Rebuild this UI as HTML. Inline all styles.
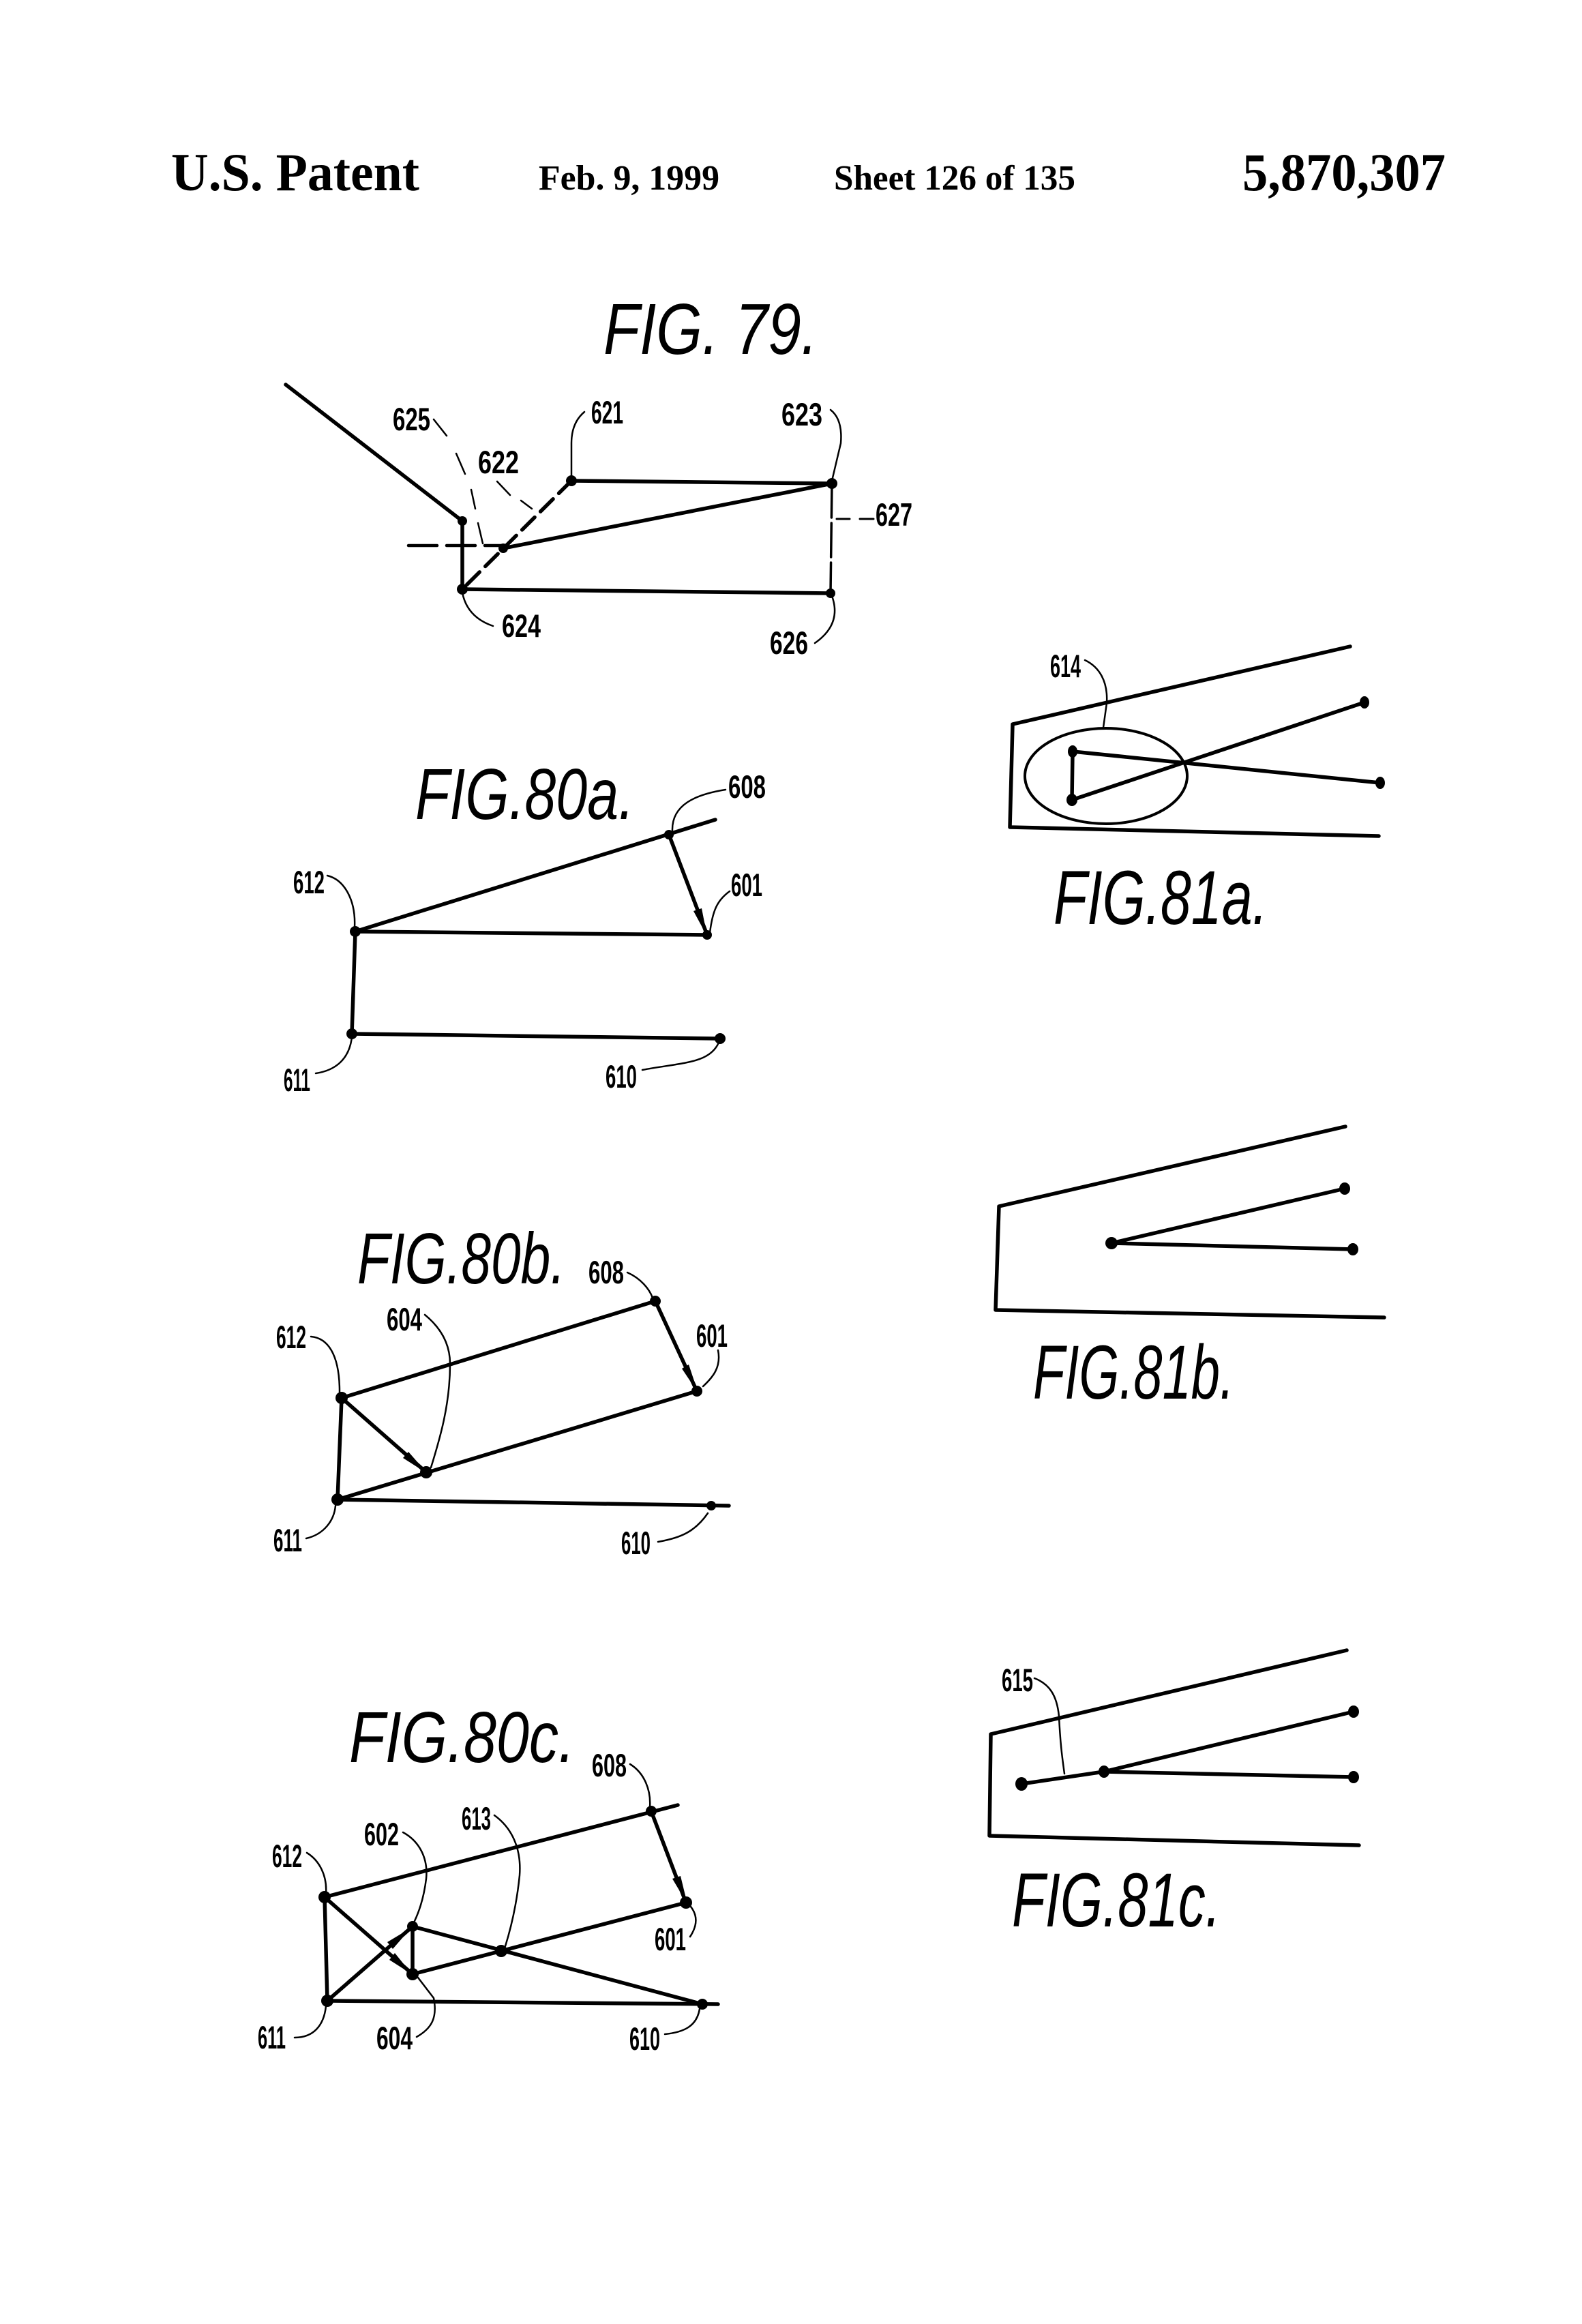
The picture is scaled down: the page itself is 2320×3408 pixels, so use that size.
<!DOCTYPE html>
<html><head><meta charset="utf-8"><style>
html,body{margin:0;padding:0;background:#fff;width:2320px;height:3408px;overflow:hidden}
svg{display:block}
.h{font-family:"Liberation Serif",serif;font-weight:bold;fill:#000}
.t{font-family:"Liberation Sans",sans-serif;font-style:italic;font-size:106px;fill:#000}
.t2{font-size:112px}
.l{font-family:"Liberation Sans",sans-serif;font-weight:bold;font-size:47px;fill:#000}
.s{stroke:#000;stroke-width:5.5;fill:none;stroke-linecap:round;stroke-linejoin:round}
.m{stroke:#000;stroke-width:2.5;fill:none;stroke-linecap:round}
</style></head><body>
<svg xmlns="http://www.w3.org/2000/svg" width="2320" height="3408" viewBox="0 0 2320 3408">
<rect width="2320" height="3408" fill="#fff"/>
<text class="h" x="251" y="279" font-size="78" textLength="364" lengthAdjust="spacingAndGlyphs">U.S. Patent</text>
<text class="h" x="790" y="278" font-size="52" textLength="265" lengthAdjust="spacingAndGlyphs">Feb. 9, 1999</text>
<text class="h" x="1223" y="278" font-size="52" textLength="354" lengthAdjust="spacingAndGlyphs">Sheet 126 of 135</text>
<text class="h" x="1822" y="279" font-size="78" textLength="298" lengthAdjust="spacingAndGlyphs">5,870,307</text>

<!-- FIG 79 -->
<text class="t" x="885" y="519" textLength="314" lengthAdjust="spacingAndGlyphs">FIG. 79.</text>
<path class="s" d="M419 564L678 764L678 864L1218 870M838 705L1220 709L738 804" />
<path class="s" d="M838 705L678 864" stroke-dasharray="26 12"/>
<path class="s" style="stroke-width:4.5" d="M599 800L736 800" stroke-dasharray="42 14"/>
<path class="s" style="stroke-width:3.5" d="M1220 709L1218 870" stroke-dasharray="50 8"/>
<path class="s" style="stroke-width:3" d="M1227 761H1246M1261 761H1281"/>
<g class="m"><path d="M636 615L655 639M669 665L682 695M691 718L697 746M701 767L708 797M729 706L748 726M764 734L780 746"/>
<path d="M838 700L838 650Q838 620 857 604M1220 705L1233 650Q1236 615 1218 601M678 869Q685 905 723 918M1220 874Q1235 915 1195 943"/></g>
<g><circle cx="678" cy="764" r="7"/><circle cx="678" cy="864" r="8"/><circle cx="838" cy="705" r="8"/><circle cx="1220" cy="709" r="8"/><circle cx="1218" cy="870" r="7"/><circle cx="738" cy="804" r="7"/></g>
<g class="l" >
<text x="576" y="631" textLength="55" lengthAdjust="spacingAndGlyphs">625</text>
<text x="867" y="621" textLength="47" lengthAdjust="spacingAndGlyphs">621</text>
<text x="1146" y="624" textLength="60" lengthAdjust="spacingAndGlyphs">623</text>
<text x="701" y="694" textLength="60" lengthAdjust="spacingAndGlyphs">622</text>
<text x="736" y="934" textLength="57" lengthAdjust="spacingAndGlyphs">624</text>
<text x="1129" y="959" textLength="56" lengthAdjust="spacingAndGlyphs">626</text>
<text x="1284" y="771" textLength="54" lengthAdjust="spacingAndGlyphs">627</text>
</g>

<!-- FIG 80a -->
<text class="t" x="609" y="1201" textLength="321" lengthAdjust="spacingAndGlyphs">FIG.80a.</text>
<path class="s" d="M521 1366L1049 1202M981 1224L1037 1371L521 1366L516 1516L1056 1523"/>
<polygon points="1037,1373 1029,1332 1017,1336"/>
<g class="m"><path d="M1064 1158C1020 1165 985 1180 986 1218M1070 1307C1052 1320 1045 1335 1041 1368M480 1284C505 1290 522 1320 520 1360M463 1574C490 1570 512 1555 516 1521M942 1569C1000 1558 1040 1560 1054 1529"/></g>
<g><circle cx="521" cy="1366" r="8"/><circle cx="516" cy="1516" r="8"/><circle cx="1056" cy="1523" r="8"/><circle cx="981" cy="1224" r="7"/><circle cx="1037" cy="1371" r="7"/></g>
<g class="l">
<text x="1068" y="1170" textLength="55" lengthAdjust="spacingAndGlyphs">608</text>
<text x="1072" y="1314" textLength="46" lengthAdjust="spacingAndGlyphs">601</text>
<text x="430" y="1310" textLength="46" lengthAdjust="spacingAndGlyphs">612</text>
<text x="416" y="1600" textLength="39" lengthAdjust="spacingAndGlyphs">611</text>
<text x="888" y="1595" textLength="46" lengthAdjust="spacingAndGlyphs">610</text>
</g>

<!-- FIG 80b -->
<text class="t" x="524" y="1882" textLength="305" lengthAdjust="spacingAndGlyphs">FIG.80b.</text>
<path class="s" d="M501 2050L961 1908L1022 2040L495 2199L1069 2208M501 2050L495 2199M501 2050L625 2159"/>
<polygon points="1024,2043 1010,2001 1000,2007"/>
<polygon points="627,2161 599,2129 591,2138"/>
<g class="m"><path d="M920 1866C940 1875 952 1890 957 1903M623 1928C650 1950 660 1975 660 2000C660 2060 645 2110 632 2152M456 1960C480 1962 498 1985 498 2041M1053 1980C1058 2005 1045 2020 1031 2033M449 2256C475 2250 490 2230 492 2208M965 2261C1000 2255 1020 2245 1038 2219"/></g>
<g><circle cx="961" cy="1908" r="8"/><circle cx="1022" cy="2040" r="8"/><circle cx="501" cy="2050" r="9"/><circle cx="625" cy="2159" r="9"/><circle cx="495" cy="2199" r="9"/><circle cx="1043" cy="2208" r="7"/></g>
<g class="l">
<text x="863" y="1882" textLength="52" lengthAdjust="spacingAndGlyphs">608</text>
<text x="567" y="1951" textLength="52" lengthAdjust="spacingAndGlyphs">604</text>
<text x="405" y="1977" textLength="44" lengthAdjust="spacingAndGlyphs">612</text>
<text x="1021" y="1975" textLength="46" lengthAdjust="spacingAndGlyphs">601</text>
<text x="401" y="2275" textLength="42" lengthAdjust="spacingAndGlyphs">611</text>
<text x="911" y="2279" textLength="43" lengthAdjust="spacingAndGlyphs">610</text>
</g>

<!-- FIG 80c -->
<text class="t" x="512" y="2584" textLength="331" lengthAdjust="spacingAndGlyphs">FIG.80c.</text>
<path class="s" d="M476 2782L994 2647M955 2656L1006 2790L605 2895L476 2782L480 2934L1053 2939M480 2934L605 2825L605 2895M605 2825L1030 2939"/>
<polygon points="1008,2792 998,2751 986,2755"/>
<polygon points="604,2895 579,2864 571,2874"/>
<polygon points="603,2827 576,2858 568,2848"/>
<g class="m"><path d="M924 2587C945 2600 955 2625 953 2651M725 2662C750 2680 765 2710 762 2750C758 2790 750 2825 741 2854M591 2687C615 2700 628 2725 625 2755C622 2780 616 2800 608 2817M450 2717C468 2728 480 2750 478 2777M1013 2796C1024 2810 1022 2825 1012 2840M432 2988C460 2988 475 2970 478 2942M611 2987C632 2975 642 2960 636 2930L613 2900M975 2983C1005 2980 1022 2970 1026 2946"/></g>
<g><circle cx="955" cy="2656" r="8"/><circle cx="476" cy="2782" r="9"/><circle cx="1006" cy="2790" r="9"/><circle cx="605" cy="2825" r="8"/><circle cx="605" cy="2895" r="9"/><circle cx="735" cy="2861" r="9"/><circle cx="480" cy="2934" r="9"/><circle cx="1030" cy="2939" r="8"/></g>
<g class="l">
<text x="868" y="2605" textLength="51" lengthAdjust="spacingAndGlyphs">608</text>
<text x="677" y="2683" textLength="43" lengthAdjust="spacingAndGlyphs">613</text>
<text x="534" y="2706" textLength="51" lengthAdjust="spacingAndGlyphs">602</text>
<text x="399" y="2738" textLength="44" lengthAdjust="spacingAndGlyphs">612</text>
<text x="960" y="2860" textLength="46" lengthAdjust="spacingAndGlyphs">601</text>
<text x="378" y="3004" textLength="41" lengthAdjust="spacingAndGlyphs">611</text>
<text x="552" y="3005" textLength="53" lengthAdjust="spacingAndGlyphs">604</text>
<text x="923" y="3006" textLength="45" lengthAdjust="spacingAndGlyphs">610</text>
</g>

<!-- FIG 81a -->
<path class="s" d="M1980 948L1485 1062L1481 1213L2022 1226M2024 1148L1573 1102L1572 1173L2001 1030"/>
<ellipse cx="1622" cy="1138" rx="119" ry="70" fill="none" stroke="#000" stroke-width="4"/>
<g><ellipse cx="1573" cy="1102" rx="7" ry="9"/><ellipse cx="1572" cy="1173" rx="8" ry="9"/><ellipse cx="2001" cy="1030" rx="7" ry="9"/><ellipse cx="2024" cy="1148" rx="7" ry="9"/></g>
<path class="m" d="M1591 968C1612 978 1625 999 1623 1031L1618 1067"/>
<text class="l" x="1540" y="993" textLength="45" lengthAdjust="spacingAndGlyphs">614</text>
<text class="t t2" x="1545" y="1355" textLength="314" lengthAdjust="spacingAndGlyphs">FIG.81a.</text>

<!-- FIG 81b -->
<path class="s" d="M1973 1652L1465 1769L1460 1921L2030 1932M1972 1743L1630 1823L1984 1832"/>
<g><ellipse cx="1630" cy="1823" rx="9" ry="9"/><ellipse cx="1972" cy="1743" rx="8" ry="9"/><ellipse cx="1984" cy="1832" rx="8" ry="9"/></g>
<text class="t t2" x="1515" y="2051" textLength="295" lengthAdjust="spacingAndGlyphs">FIG.81b.</text>

<!-- FIG 81c -->
<path class="s" d="M1975 2420L1453 2543L1451 2692L1993 2706M1498 2616L1619 2598L1985 2510M1619 2598L1985 2606"/>
<g><ellipse cx="1498" cy="2616" rx="9" ry="10"/><ellipse cx="1619" cy="2598" rx="8" ry="9"/><ellipse cx="1985" cy="2510" rx="8" ry="9"/><ellipse cx="1985" cy="2606" rx="8" ry="9"/></g>
<path class="m" d="M1517 2461C1538 2469 1550 2485 1553 2517C1555 2559 1558 2579 1561 2601"/>
<text class="l" x="1469" y="2480" textLength="46" lengthAdjust="spacingAndGlyphs">615</text>
<text class="t t2" x="1484" y="2825" textLength="306" lengthAdjust="spacingAndGlyphs">FIG.81c.</text>
</svg>
</body></html>
